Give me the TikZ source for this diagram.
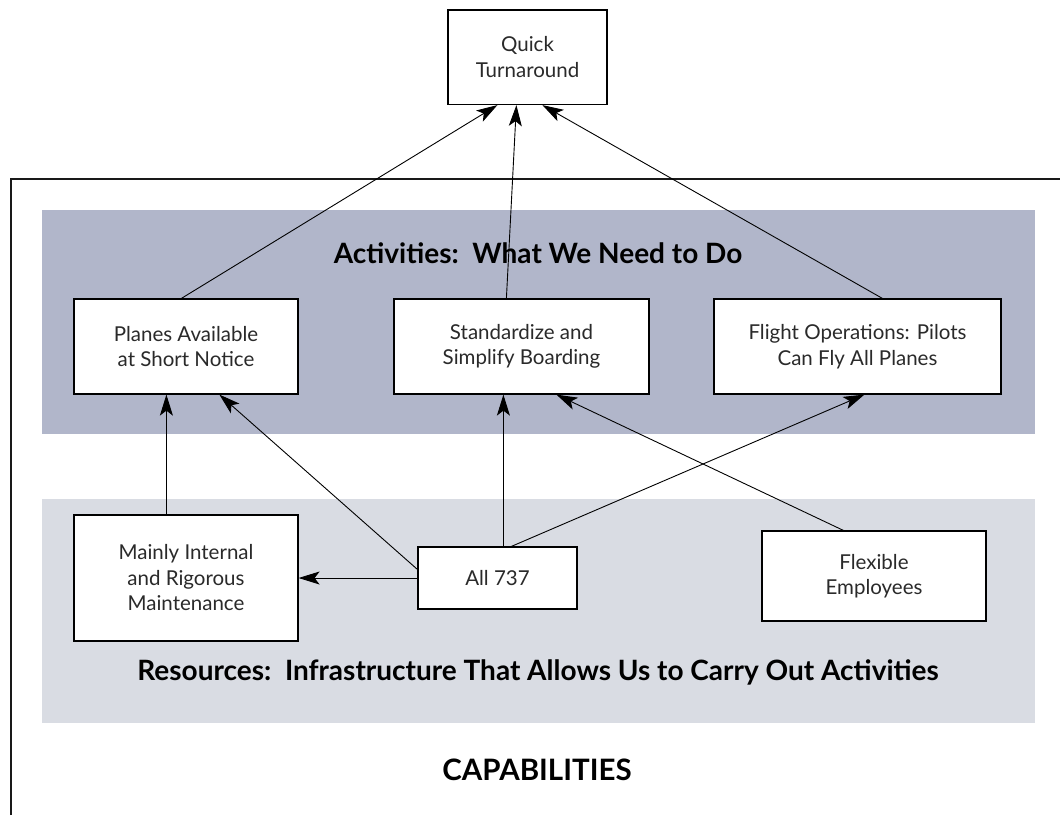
\documentclass[tikz,border=0pt]{standalone}
\usepackage{fontspec}
\setmainfont{Lato}
\usetikzlibrary{calc,arrows.meta}
\definecolor{actband}{HTML}{B1B6CA}
\definecolor{resband}{HTML}{D9DCE3}
\definecolor{boxtext}{HTML}{2A2A2A}
\begin{document}
\begin{tikzpicture}[x=1pt,y=-1pt,
  box/.style={draw=black, line width=1.2pt, fill=white, inner sep=0pt, align=center,
    text=boxtext, font=\fontsize{20.5}{25.5}\selectfont},
  title/.style={font=\fontsize{28}{30}\selectfont\bfseries, text=black, inner sep=0pt},
  conn/.style={line width=0.9pt, -{Stealth[length=21pt,width=13pt,inset=5pt]}},
  frame/.style={line width=1.3pt, draw=black!90}
]
\useasboundingbox (0,0) rectangle (1060,815);
% outer frame (open on right and bottom)
\coordinate (fbl) at (11,815);
\coordinate (ftl) at (11,179);
\coordinate (ftr) at (1060,179);
\draw[frame] (fbl) -- (ftl) -- (ftr);
% bands
\fill[actband] (42,210) rectangle (1035,434);
\fill[resband] (42,499) rectangle (1035,723);
\node[title] (acttitle) at (538,253) {Activities:\ \ What We Need to Do};
\node[title] (restitle) at (538,672) {Resources:\ \ Infrastructure That Allows Us to Carry Out Activities};
\node[title, font=\fontsize{29.5}{32}\selectfont\bfseries] (cap) at (537,770) {CAPABILITIES};
% boxes
\node[box, minimum width=159pt, minimum height=94.5pt] (qt) at (527.5,57.25) {Quick\\Turnaround};
\node[box, minimum width=224pt, minimum height=95pt] (planes) at (186,346.5) {Planes Available\\at Short Notice};
\node[box, minimum width=255pt, minimum height=95pt] (std) at (521.5,346.5) {Standardize and\\Simplify Boarding};
\node[box, minimum width=287pt, minimum height=95pt] (flight) at (857.5,346.5) {Flight Operations: Pilots\\Can Fly All Planes};
\node[box, minimum width=224pt, minimum height=126pt] (mainly) at (186,578) {Mainly Internal\\and Rigorous\\Maintenance};
\node[box, minimum width=159pt, minimum height=62pt] (all) at (497.5,578) {All 737};
\node[box, minimum width=224pt, minimum height=90pt] (flex) at (874,576) {Flexible\\Employees};
% connectors
\draw[conn] ($(planes.north west)+(108,0)$) -- ($(qt.south west)+(50,0)$);
\draw[conn] ($(std.north west)+(113,0)$) -- ($(qt.south west)+(69,0)$);
\draw[conn] ($(flight.north west)+(169,0)$) -- ($(qt.south west)+(95,0)$);
\draw[conn] ($(mainly.north west)+(93,0)$) -- ($(planes.south west)+(93,0)$);
\draw[conn] ($(all.north west)+(0,23)$) -- ($(planes.south west)+(146,0)$);
\draw[conn] ($(all.north west)+(86,0)$) -- ($(std.south west)+(110,0)$);
\draw[conn] ($(all.north west)+(94,0)$) -- ($(flight.south west)+(151,0)$);
\draw[conn] ($(flex.north west)+(82,0)$) -- ($(std.south west)+(163,0)$);
\draw[conn] (all.west) -- (all.west -| mainly.east);
\end{tikzpicture}
\end{document}
